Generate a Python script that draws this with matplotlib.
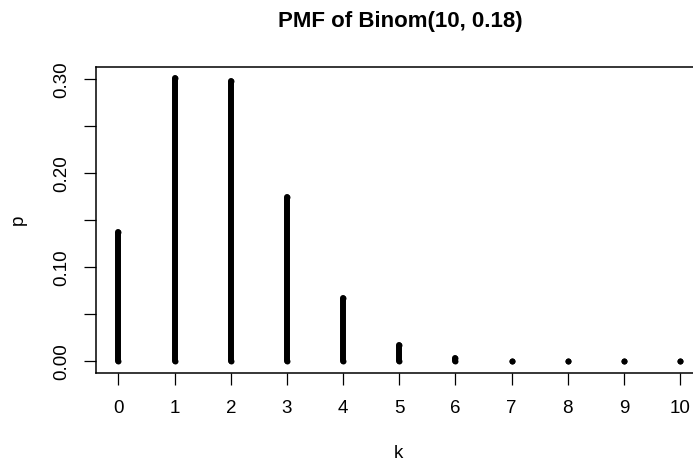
import matplotlib
matplotlib.use('Agg')
import matplotlib.pyplot as plt

# PMF values for Binom(10, 0.18)
k = [0, 1, 2, 3, 4, 5, 6, 7, 8, 9, 10]
p = [0.1374, 0.3017, 0.2980, 0.1745, 0.0670, 0.0177, 0.0032,
     0.0004, 0.00003, 0.000002, 0.0]
ytick_vals = [0.00, 0.05, 0.10, 0.15, 0.20, 0.25, 0.30]
ytick_labels = ['0.00', '', '0.10', '', '0.20', '', '0.30']

plt.rcParams['font.family'] = ['Liberation Sans', 'DejaVu Sans']

W, H = 693, 463
fig = plt.figure(figsize=(W / 100, H / 100), dpi=100)
# plot box runs past the right edge of the image, as in the reference
left, right, top, bottom = 96, 702.5, 66.5, 372.5
ax = fig.add_axes([left / W, (H - bottom) / H, (right - left) / W, (bottom - top) / H])

lines = ax.vlines(k, 0, p, colors='black', linewidth=4.3)
lines.set_capstyle('round')
# zero-length segments don't draw, so put round dots at both ends
ax.plot(k, p, 'o', color='black', ms=4.3, mew=0)
ax.plot(k, [0] * len(k), 'o', color='black', ms=4.3, mew=0)

ax.set_xlim(-0.4, 10.4)
ax.set_ylim(-0.0121, 0.3138)
ax.set_xticks(k)
ax.set_xticklabels([str(v) for v in k])
ax.set_yticks(ytick_vals)
ax.set_yticklabels(ytick_labels)
plt.setp(ax.get_yticklabels(), rotation=90, va='center')

for s in ax.spines.values():
    s.set_linewidth(1.1)
ax.tick_params(axis='both', length=8.6, width=0.9, labelsize=13.5, pad=11)
ax.tick_params(axis='y', pad=10)

fig.text(400 / W, 1 - 22 / H, 'PMF of Binom(10, 0.18)', ha='center', va='center',
         fontsize=16, fontweight='bold')
fig.text(398 / W, 1 - 453 / H, 'k', ha='center', va='center', fontsize=13.5)
fig.text(18 / W, 1 - 220 / H, 'p', ha='center', va='center', fontsize=13.5, rotation=90)

fig.savefig('out.png', dpi=100)
